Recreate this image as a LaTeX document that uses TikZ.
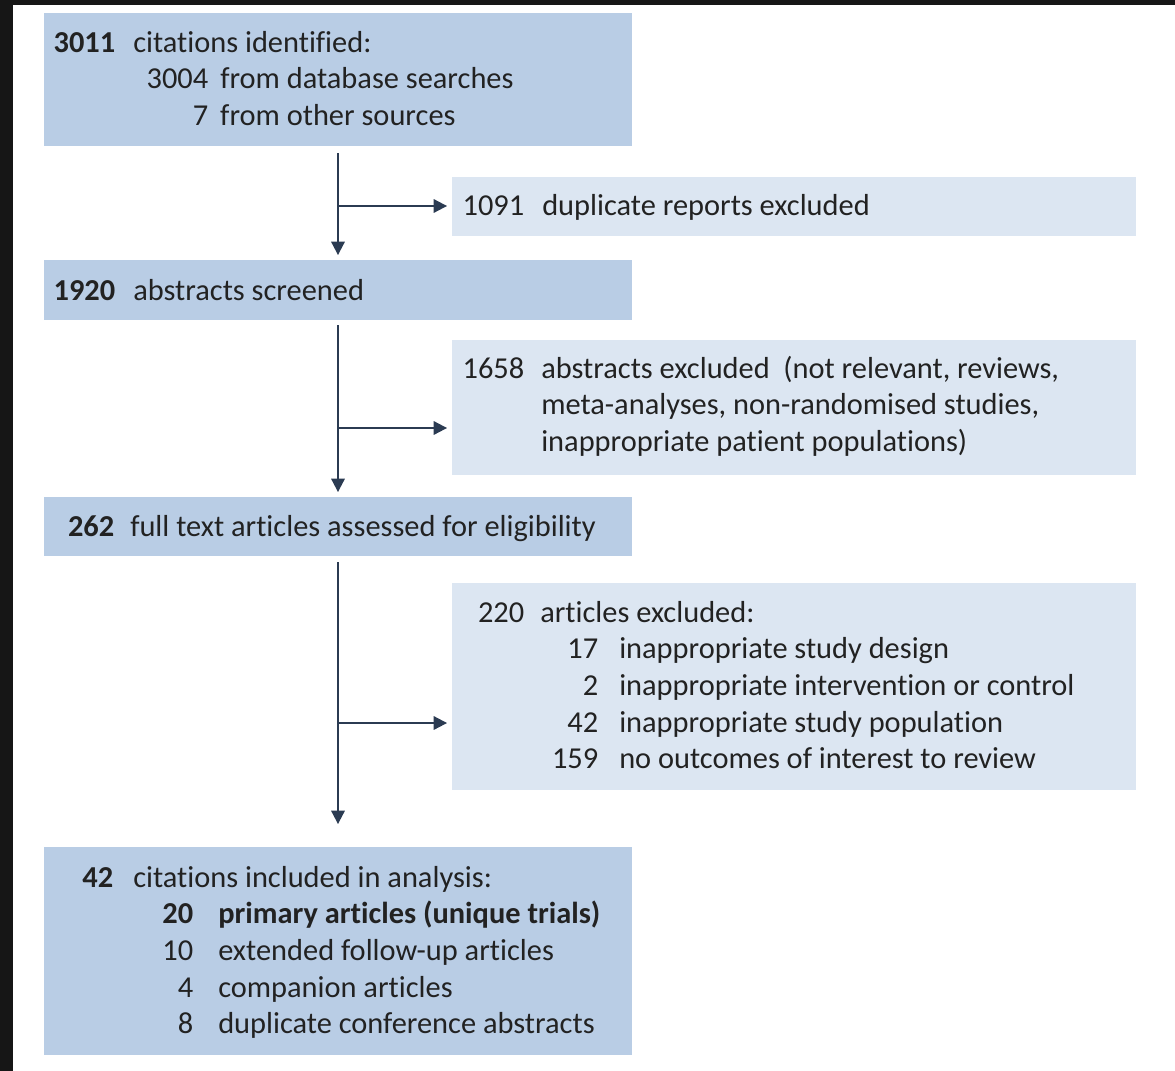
\documentclass[tikz,border=0pt]{standalone}
\usepackage{fontspec}
\setmainfont{Carlito}[Ligatures={NoCommon}]
\usetikzlibrary{arrows.meta, fit, positioning}

\definecolor{boxdark}{HTML}{B9CDE5}
\definecolor{boxlight}{HTML}{DCE6F2}
\definecolor{linecol}{HTML}{2B3B52}
\definecolor{txtcol}{HTML}{222222}
\definecolor{framebg}{HTML}{161616}

\newlength\pxu
\setlength\pxu{0.75pt}
% number set flush right in a column, then the text
\newcommand{\flowline}[4]{\makebox[#1\pxu][r]{#3}\hspace{#2\pxu}#4}

\begin{document}
\begin{tikzpicture}[x=0.75pt, y=-0.75pt]
        % Setup the styles for boxes, texts and arrows
        \tikzset{main box/.style={fill=boxdark, draw=none, inner sep=0pt},
                 side box/.style={fill=boxlight, draw=none, inner sep=0pt},
                 box text/.style={anchor=base west, inner sep=0pt,
                                  text=txtcol,
                                  font=\fontsize{22.8}{27.5}\selectfont},
                 flow/.style={line width=1.5pt, draw=linecol,
                              -{Triangle[length=10pt, width=10pt]},
                              shorten >=3.5pt}}

        % Frame
        \useasboundingbox (0,0) rectangle (1175,1071);
        \fill[framebg] (0,0) rectangle (1175,1071);
        \fill[white] (13,5) rectangle (1175,1071);

        % Draw the main boxes
        \node[main box, fit={(44,13) (632,146)}] (ident) {};
        \node[main box, fit={(44,260) (632,320)}] (screen) {};
        \node[main box, fit={(44,497) (632,556)}] (fulltext) {};
        \node[main box, fit={(44,847) (632,1055)}] (incl) {};
        % Draw the exclusion boxes
        \node[side box, fit={(452,177) (1136,236)}] (dupl) {};
        \node[side box, fit={(452,340) (1136,475)}] (absexcl) {};
        \node[side box, fit={(452,583) (1136,790)}] (artexcl) {};

        % Texts
        \node[box text] (identtxt) at (44,52) {\begin{tabular}[t]{@{}l@{}}
            \flowline{71}{18}{\textbf{3011}}{citations identified:}\\
            \flowline{164}{12}{3004}{from database searches}\\
            \flowline{164}{12}{7}{from other sources}
          \end{tabular}};
        \node[box text] (screentxt) at (44,300)
          {\flowline{71}{18}{\textbf{1920}}{abstracts screened}};
        \node[box text] (fulltxt) at (44,536)
          {\flowline{70}{16}{\textbf{262}}{full text articles assessed for eligibility}};
        \node[box text] (dupltxt) at (452,215)
          {\flowline{72}{18}{1091}{duplicate reports excluded}};
        \node[box text] (absexcltxt) at (452,378) {\begin{tabular}[t]{@{}l@{}}
            \flowline{72}{17}{1658}{abstracts excluded~~(not relevant, reviews,}\\
            \flowline{72}{17}{}{meta-analyses, non-randomised studies,}\\
            \flowline{72}{17}{}{inappropriate patient populations)}
          \end{tabular}};
        \node[box text] (artexcltxt) at (452,622) {\begin{tabular}[t]{@{}l@{}}
            \flowline{72}{16}{220}{articles excluded:}\\
            \flowline{146}{21}{17}{inappropriate study design}\\
            \flowline{146}{21}{2}{inappropriate intervention or control}\\
            \flowline{146}{21}{42}{inappropriate study population}\\
            \flowline{146}{21}{159}{no outcomes of interest to review}
          \end{tabular}};
        \node[box text] (incltxt) at (44,887) {\begin{tabular}[t]{@{}l@{}}
            \flowline{69}{20}{\textbf{42}}{citations included in analysis:}\\
            \flowline{149}{25}{\textbf{20}}{\textbf{primary articles (unique trials)}}\\
            \flowline{149}{25}{10}{extended follow-up articles}\\
            \flowline{149}{25}{4}{companion articles}\\
            \flowline{149}{25}{8}{duplicate conference abstracts}
          \end{tabular}};

        % Trunk start points and branch points
        \coordinate (top1) at (338,153);
        \coordinate (top2) at (338,325);
        \coordinate (top3) at (338,562);
        \coordinate (fork1) at (338,206);
        \coordinate (fork2) at (338,428);
        \coordinate (fork3) at (338,723);

        % Connect the boxes with arrows
        \draw[flow] (top1) -- (top1 |- screen.north);
        \draw[flow] (fork1) -- (fork1 -| dupl.west);
        \draw[flow] (top2) -- (top2 |- fulltext.north);
        \draw[flow] (fork2) -- (fork2 -| absexcl.west);
        \draw[flow, shorten >=17pt] (top3) -- (top3 |- incl.north);
        \draw[flow] (fork3) -- (fork3 -| artexcl.west);
\end{tikzpicture}
\end{document}
